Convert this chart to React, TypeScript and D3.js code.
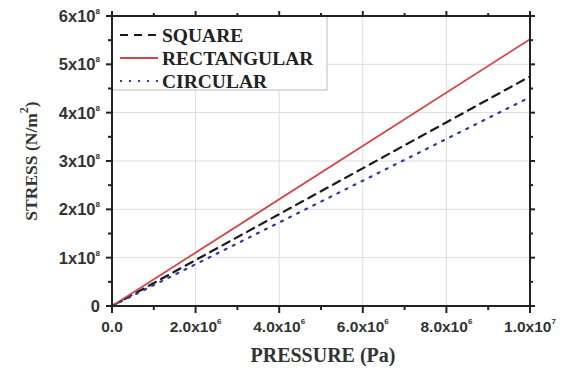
import React from 'react';
import * as d3 from 'd3';

// pressure (Pa) vs stress (N/m^2), straight lines through the origin
const pressure = [0, 1e7];
const squareStress = [0, 4.75e8];
const rectStress = [0, 5.52e8];
const circStress = [0, 4.32e8];

const yTicks = [0, 1e8, 2e8, 3e8, 4e8, 5e8, 6e8];
const yTickBase = ['0', '1x10', '2x10', '3x10', '4x10', '5x10', '6x10'];
const yTickExp = ['', '8', '8', '8', '8', '8', '8'];
const xTicks = [0, 2e6, 4e6, 6e6, 8e6, 1e7];
const xTickBase = ['0.0', '2.0x10', '4.0x10', '6.0x10', '8.0x10', '1.0x10'];
const xTickExp = ['', '6', '6', '6', '6', '7'];

const seriesNames = ['SQUARE', 'RECTANGULAR', 'CIRCULAR'];
const seriesValues = [squareStress, rectStress, circStress];
const seriesColors = ['#1a1a1a', '#d0474a', '#2c3d96'];
const seriesDash = ['8,6', 'none', '2,7'];

const W = 563, H = 372;
const margin = { top: 16, right: 33, bottom: 66, left: 112 };
const tickFont = 'Arial, "Liberation Sans", sans-serif';
const titleFont = '"Liberation Serif", "Times New Roman", serif';

export default function App() {
    const x = d3.scaleLinear().domain([0, 1e7]).range([margin.left, W - margin.right]);
    const y = d3.scaleLinear().domain([0, 6e8]).range([H - margin.bottom, margin.top]);
    const [x0, x1] = x.range();
    const [y0, y1] = y.range();

    const line = d3.line<number>().x((_, i) => x(pressure[i])).y(d => y(d));

    const xMinor = d3.range(1e6, 1e7, 2e6);
    const yMinor = d3.range(0.5e8, 6e8, 1e8);

    return (
        <svg width={W} height={H} style={{ position: 'absolute', left: 0, top: 0, background: '#fff' }}>
            {/* grid */}
            {xTicks.slice(1, -1).map(t => (
                <line key={'gx' + t} x1={x(t)} x2={x(t)} y1={y0} y2={y1} stroke="#dcdcdc" strokeWidth={1} />
            ))}
            {yTicks.slice(1, -1).map(t => (
                <line key={'gy' + t} x1={x0} x2={x1} y1={y(t)} y2={y(t)} stroke="#dcdcdc" strokeWidth={1} />
            ))}

            {/* legend */}
            <rect x={x0} y={y1} width={215} height={74} fill="#fff" stroke="#bbb" strokeWidth={1} />
            {seriesNames.map((name, i) => {
                const ly = 35 + i * 23;
                return (
                    <g key={name}>
                        <line x1={x0 + 8} x2={x0 + 46} y1={ly} y2={ly} stroke={seriesColors[i]}
                            strokeWidth={2.2} strokeDasharray={seriesDash[i]} />
                        <text x={x0 + 50} y={ly + 7} fontFamily={titleFont} fontWeight="bold" fontSize={19.5}
                            fill="#222">{name}</text>
                    </g>
                );
            })}

            {/* series */}
            {seriesValues.map((vals, i) => (
                <path key={seriesNames[i]} d={line(vals) || ''} fill="none" stroke={seriesColors[i]}
                    strokeWidth={i === 1 ? 1.8 : 2.2} strokeDasharray={seriesDash[i]} strokeLinecap="round" />
            ))}

            {/* frame */}
            <rect x={x0} y={y1} width={x1 - x0} height={y0 - y1} fill="none" stroke="#222" strokeWidth={2} />

            {/* x ticks bottom & top */}
            {xTicks.map(t => (
                <g key={'xt' + t}>
                    <line x1={x(t)} x2={x(t)} y1={y0} y2={y0 + 7} stroke="#222" strokeWidth={2} />
                    <line x1={x(t)} x2={x(t)} y1={y1} y2={y1 - 5} stroke="#222" strokeWidth={2} />
                </g>
            ))}
            {xMinor.map(t => (
                <g key={'xm' + t}>
                    <line x1={x(t)} x2={x(t)} y1={y0} y2={y0 + 4} stroke="#222" strokeWidth={2} />
                    <line x1={x(t)} x2={x(t)} y1={y1} y2={y1 - 3} stroke="#222" strokeWidth={2} />
                </g>
            ))}
            {/* y ticks left & right */}
            {yTicks.map(t => (
                <g key={'yt' + t}>
                    <line x1={x0 - 6} x2={x0} y1={y(t)} y2={y(t)} stroke="#222" strokeWidth={2} />
                    <line x1={x1} x2={x1 + 5} y1={y(t)} y2={y(t)} stroke="#222" strokeWidth={2} />
                </g>
            ))}
            {yMinor.map(t => (
                <g key={'ym' + t}>
                    <line x1={x0 - 4} x2={x0} y1={y(t)} y2={y(t)} stroke="#222" strokeWidth={2} />
                    <line x1={x1} x2={x1 + 3} y1={y(t)} y2={y(t)} stroke="#222" strokeWidth={2} />
                </g>
            ))}

            {/* y tick labels */}
            {yTicks.map((t, i) => (
                <text key={'yl' + t} x={x0 - 12} y={y(t) + 6} textAnchor="end" fontFamily={tickFont}
                    fontWeight="bold" fontSize={16.5} fill="#333">
                    {yTickBase[i]}
                    {yTickExp[i] && <tspan fontSize={8} dy={-8}>{yTickExp[i]}</tspan>}
                </text>
            ))}
            {/* x tick labels */}
            {xTicks.map((t, i) => (
                <text key={'xl' + t} x={x(t)} y={y0 + 26} textAnchor="middle" fontFamily={tickFont}
                    fontWeight="bold" fontSize={15.5} fill="#333">
                    {xTickBase[i]}
                    {xTickExp[i] && <tspan fontSize={8} dy={-8}>{xTickExp[i]}</tspan>}
                </text>
            ))}

            {/* axis titles */}
            <text x={(x0 + x1) / 2 + 2} y={362} textAnchor="middle" fontFamily={titleFont} fontWeight="bold"
                fontSize={20} fill="#333">PRESSURE (Pa)</text>
            <text transform={`translate(37,${(y0 + y1) / 2}) rotate(-90)`} textAnchor="middle" fontFamily={titleFont}
                fontWeight="bold" fontSize={17.5} fill="#333">
                STRESS (N/m<tspan fontSize={12} dy={-9}>2</tspan><tspan dy={9}>)</tspan>
            </text>
        </svg>
    );
}
